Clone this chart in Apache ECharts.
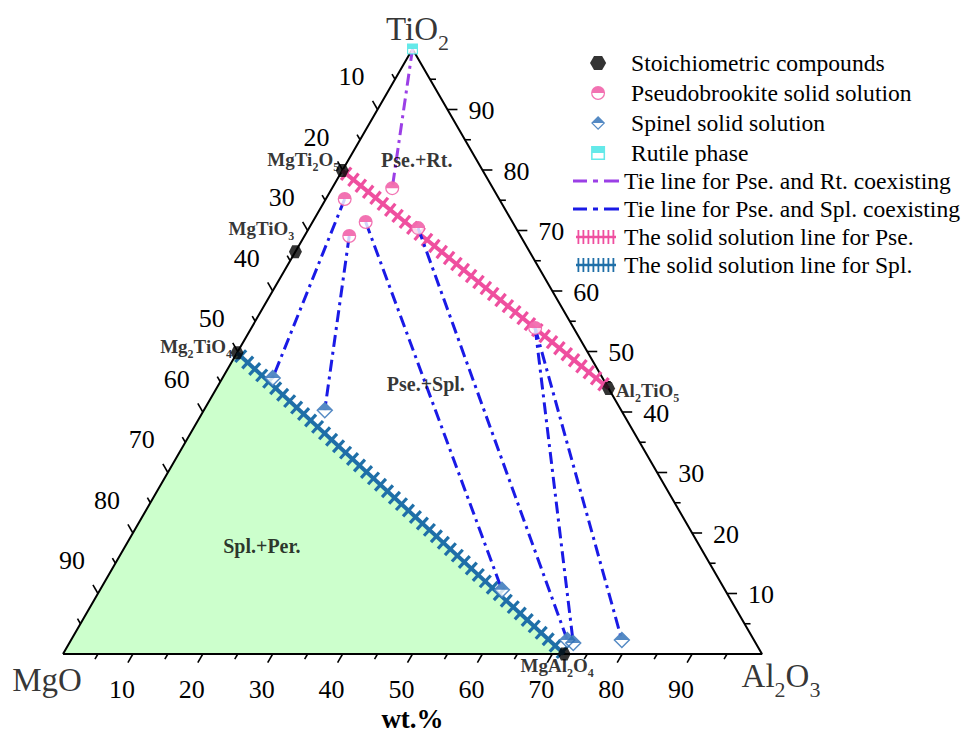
<!DOCTYPE html>
<html>
<head>
<meta charset="utf-8">
<script src="https://cdn.jsdelivr.net/npm/echarts@6/dist/echarts.min.js"></script>
<style>html,body{margin:0;padding:0;background:#fff}#c{width:963px;height:732px}</style>
</head>
<body>
<div id="c"></div>
<script>
// ---------------- data: compositions in wt.% as [MgO, Al2O3, TiO2] ----------------
const vertexNames = ['MgO', 'Al2O3', 'TiO2'];
const vertexComp = [[100, 0, 0], [0, 100, 0], [0, 0, 100]];
const compoundNames = ['MgTi2O5', 'MgTiO3', 'Mg2TiO4', 'Al2TiO5', 'MgAl2O4'];
const compoundComp = [[20.1, 0, 79.9], [33.5, 0, 66.5], [50.2, 0, 49.8], [0, 56.1, 43.9], [28.3, 71.7, 0]];
const pseComp = [[14.4, 8.6, 77.0], [22.1, 2.7, 75.2], [24.5, 6.4, 69.1], [21.0, 7.6, 71.4], [14.0, 15.6, 70.4], [5.5, 40.6, 53.9]];
const splComp = [[47.2, 7.2, 45.6], [42.4, 17.3, 40.3], [31.9, 57.5, 10.6], [26.7, 71.0, 2.3], [26.1, 72.1, 1.8], [18.9, 78.8, 2.3]];
const rutileComp = [[0, 0, 100]];
const tiePseRt = [[0, 0]];                                              // [rutile idx, pse idx]
const tiePseSpl = [[1, 0], [2, 1], [3, 2], [4, 3], [5, 4], [5, 5]];     // [pse idx, spl idx]
const pseSolidLine = [0, 3];   // compound indices: MgTi2O5 -> Al2TiO5
const splSolidLine = [2, 4];   // compound indices: Mg2TiO4 -> MgAl2O4
const perRegion = [[100, 0, 0], [50.2, 0, 49.8], [28.3, 71.7, 0]];
const regionNames = ['Pse.+Rt.', 'Pse.+Spl.', 'Spl.+Per.'];
const regionComp = [[8.6, 9.8, 81.6], [25.8, 29.6, 44.6], [62.6, 19.5, 17.9]];
const tickValues = [5, 10, 15, 20, 25, 30, 35, 40, 45, 50, 55, 60, 65, 70, 75, 80, 85, 90, 95];
const tickLabels = [10, 20, 30, 40, 50, 60, 70, 80, 90];
const axisTitle = 'wt.%';

// ---------------- styles ----------------
const SERIF = "'Liberation Serif', 'Times New Roman', serif";
const PINK = '#ef4f9f', SPLBLUE = '#1f6fa8', DIAMOND = '#2a6db5', TIEBLUE = '#1a1ae6', PURPLE = '#9b3fe6', CYAN = '#3de3e3';
const HEX = 'path://M5,0 L15,0 L20,8.66 L15,17.32 L5,17.32 L0,8.66 Z';
const HALF_CIRCLE = 'path://M0,10 A10,10 0 0 1 20,10 Z M20,10 A10,10 0 0 1 0,10 L1.8,10 A8.2,8.2 0 0 0 18.2,10 Z';
const HALF_DIAMOND = 'path://M10,0 L20,10 L0,10 Z M20,10 L10,20 L0,10 L2.4,10 L10,17.6 L17.6,10 Z';
const HALF_SQUARE = 'path://M0,0 L20,0 L20,10 L0,10 Z M0,10 L20,10 L20,20 L0,20 Z M2.2,10 L2.2,17.8 L17.8,17.8 L17.8,10 Z';
const DASHDOT = 'path://M0,0 L14,0 L14,3 L0,3 Z M20,0 L25,0 L25,3 L20,3 Z M31,0 L46,0 L46,3 L31,3 Z';
function hatchIcon() {
  let p = 'path://M0,5.8 L40,5.8 L40,8.2 L0,8.2 Z';
  for (let x = 1.5; x < 40; x += 5) p += ' M' + x + ',0 L' + (x + 1.8) + ',0 L' + (x + 1.8) + ',14 L' + x + ',14 Z';
  return p;
}
const HATCH = hatchIcon();

const compoundLabelOffset = [[-39, -9], [-34, -21], [-41, -4], [39, 4], [-7, 13]];
const vertexLabelOffset = [[-16, 27], [19, 26], [5, -16]];

// ternary -> cartesian data units (x in 0..100, y in 0..H)
const H = 100 * Math.sqrt(3) / 2;
function toXY(c) {
  const s = c[0] + c[1] + c[2];
  const a = c[1] / s * 100, t = c[2] / s * 100;
  return [a + t / 2, t / 100 * H];
}
function richFormula(name) {
  return name.replace(/([A-Za-z]+)|(\d+)/g, (m, w, d) => w ? '{n|' + w + '}' : '{s|' + d + '}');
}
function tieData(pairs, fromArr, toArr) {
  const out = [];
  pairs.forEach((pr, k) => {
    if (k) out.push(['-', '-']);
    out.push(toXY(fromArr[pr[0]]), toXY(toArr[pr[1]]));
  });
  return out;
}
function tickSeries(axis) {
  return {
    type: 'custom', silent: true, z: 3,
    data: tickValues.map(v => [v, 0]),
    renderItem: (params, api) => {
      const v = api.value(0);
      let comp, dir, off;
      if (axis === 'bottom') { comp = [100 - v, v, 0]; dir = [-0.5, 0.866]; off = [-11, 35]; }
      else if (axis === 'left') { comp = [v, 0, 100 - v]; dir = [-0.5, -0.866]; off = [-26, -33]; }
      else { comp = [0, 100 - v, v]; dir = [1, 0]; off = [34, 1]; }
      const p = api.coord(toXY(comp));
      const major = tickLabels.indexOf(v) >= 0;
      const len = major ? 10 : 6;
      const children = [{
        type: 'line',
        shape: { x1: p[0], y1: p[1], x2: p[0] + dir[0] * len, y2: p[1] + dir[1] * len },
        style: { stroke: '#000', lineWidth: 1.6 }
      }];
      if (major) {
        children.push({
          type: 'text',
          style: {
            legacy: false,
            text: String(v), x: p[0] + off[0], y: p[1] + off[1],
            fill: '#000', font: '26px ' + SERIF, fontSize: 26, fontFamily: SERIF,
            align: 'center', verticalAlign: 'middle'
          }
        });
      }
      return { type: 'group', children };
    }
  };
}
function hatchSeries(name, color, pair) {
  const a = toXY(compoundComp[pair[0]]), b = toXY(compoundComp[pair[1]]);
  return {
    name, type: 'custom', z: 4, silent: true, itemStyle: { color },
    encode: { x: [0, 2], y: [1, 3] },
    data: [[a[0], a[1], b[0], b[1]]],
    renderItem: (params, api) => {
      const p1 = api.coord([api.value(0), api.value(1)]);
      const p2 = api.coord([api.value(2), api.value(3)]);
      const dx = p2[0] - p1[0], dy = p2[1] - p1[1], L = Math.hypot(dx, dy);
      const ux = dx / L, uy = dy / L, nx = -uy, ny = ux;
      const children = [{ type: 'line', shape: { x1: p1[0], y1: p1[1], x2: p2[0], y2: p2[1] }, style: { stroke: color, lineWidth: 4 } }];
      for (let s = 5; s < L - 2; s += 9.5) {
        const cx = p1[0] + ux * s, cy = p1[1] + uy * s;
        children.push({ type: 'line', shape: { x1: cx + nx * 8, y1: cy + ny * 8, x2: cx - nx * 8, y2: cy - ny * 8 }, style: { stroke: color, lineWidth: 3.2 } });
      }
      return { type: 'group', children };
    }
  };
}

const chart = echarts.init(document.getElementById('c'), null, { renderer: 'svg' });
const legendText = { fontFamily: SERIF, fontSize: 23.6, color: '#000', lineHeight: 24 };
chart.setOption({
  animation: false,
  backgroundColor: '#fff',
  grid: { left: 63, right: 201, top: 49, bottom: 78, containLabel: false, outerBoundsMode: 'none' },
  xAxis: {
    type: 'value', min: 0, max: 100,
    axisLine: { show: false }, axisTick: { show: false }, axisLabel: { show: false }, splitLine: { show: false },
    name: axisTitle, nameLocation: 'middle', nameGap: 51,
    nameTextStyle: { fontFamily: SERIF, fontSize: 27, fontWeight: 'bold', color: '#000' }
  },
  yAxis: { type: 'value', min: 0, max: H, show: false },
  legend: [
    {
      orient: 'vertical', left: 590, top: 51, padding: 0, itemWidth: 56, itemHeight: 14, itemGap: 6,
      selectedMode: false, textStyle: legendText,
      data: [
        { name: 'Stoichiometric compounds', icon: HEX },
        { name: 'Pseudobrookite solid solution', icon: HALF_CIRCLE },
        { name: 'Spinel solid solution', icon: HALF_DIAMOND },
        { name: 'Rutile phase', icon: HALF_SQUARE }
      ]
    },
    {
      orient: 'vertical', left: 573, top: 169, padding: 0, itemWidth: 46, itemHeight: 14, itemGap: 4,
      selectedMode: false, textStyle: legendText,
      data: [
        { name: 'Tie line for Pse. and Rt. coexisting', icon: DASHDOT, itemStyle: { color: PURPLE } },
        { name: 'Tie line for Pse. and Spl. coexisting', icon: DASHDOT, itemStyle: { color: TIEBLUE } },
        { name: 'The solid solution line for Pse.', icon: HATCH, itemStyle: { color: PINK } },
        { name: 'The solid solution line for Spl.', icon: HATCH, itemStyle: { color: SPLBLUE } }
      ]
    }
  ],
  series: [
    {
      type: 'custom', silent: true, z: 1, data: [[0, 0]],
      renderItem: (params, api) => ({
        type: 'polygon',
        shape: { points: perRegion.map(c => api.coord(toXY(c))) },
        style: { fill: '#ccffcc' }
      })
    },
    {
      type: 'line', silent: true, z: 2, clip: false, symbol: 'none',
      lineStyle: { color: '#000', width: 2 },
      data: vertexComp.concat([vertexComp[0]]).map(toXY)
    },
    tickSeries('bottom'), tickSeries('left'), tickSeries('right'),
    hatchSeries('The solid solution line for Pse.', PINK, pseSolidLine),
    hatchSeries('The solid solution line for Spl.', SPLBLUE, splSolidLine),
    {
      name: 'Tie line for Pse. and Rt. coexisting', type: 'line', z: 5, silent: true, clip: false,
      symbol: 'none', itemStyle: { color: PURPLE },
      lineStyle: { color: PURPLE, width: 3, type: [12, 5, 3, 5] },
      data: tieData(tiePseRt, rutileComp, pseComp)
    },
    {
      name: 'Tie line for Pse. and Spl. coexisting', type: 'line', z: 5, silent: true, clip: false,
      symbol: 'none', itemStyle: { color: TIEBLUE },
      lineStyle: { color: TIEBLUE, width: 3, type: [12, 5, 3, 5] },
      data: tieData(tiePseSpl, pseComp, splComp)
    },
    // white under-layers so the open half of each marker is opaque
    { type: 'scatter', z: 6, silent: true, clip: false, symbol: 'circle', symbolSize: 13, itemStyle: { color: '#fff' }, data: pseComp.map(toXY) },
    { type: 'scatter', z: 6, silent: true, clip: false, symbol: 'diamond', symbolSize: 16, itemStyle: { color: '#fff' }, data: splComp.map(toXY) },
    { type: 'scatter', z: 6, silent: true, clip: false, symbol: 'rect', symbolSize: 10, itemStyle: { color: '#fff' }, data: rutileComp.map(toXY) },
    {
      name: 'Pseudobrookite solid solution', type: 'scatter', z: 7, silent: true, clip: false,
      symbol: HALF_CIRCLE, symbolSize: 14, itemStyle: { color: PINK }, data: pseComp.map(toXY)
    },
    {
      name: 'Spinel solid solution', type: 'scatter', z: 7, silent: true, clip: false,
      symbol: HALF_DIAMOND, symbolSize: 17, itemStyle: { color: DIAMOND }, data: splComp.map(toXY)
    },
    {
      name: 'Rutile phase', type: 'scatter', z: 7, silent: true, clip: false,
      symbol: HALF_SQUARE, symbolSize: 11, itemStyle: { color: CYAN }, data: rutileComp.map(toXY)
    },
    {
      name: 'Stoichiometric compounds', type: 'scatter', z: 8, silent: true, clip: false,
      symbol: HEX, symbolSize: 13, itemStyle: { color: '#000' },
      data: compoundComp.map((c, i) => ({ name: compoundNames[i], value: toXY(c), label: { offset: compoundLabelOffset[i] } })),
      label: {
        show: true, position: 'inside', color: '#000', textBorderWidth: 0,
        formatter: p => richFormula(p.name),
        rich: {
          n: { fontFamily: SERIF, fontWeight: 'bold', fontSize: 19, lineHeight: 22, verticalAlign: 'top', color: '#000' },
          s: { fontFamily: SERIF, fontWeight: 'bold', fontSize: 12, lineHeight: 23, verticalAlign: 'bottom', color: '#000' }
        }
      }
    },
    {
      type: 'scatter', z: 9, silent: true, clip: false, symbol: 'circle', symbolSize: 1,
      itemStyle: { color: 'rgba(0,0,0,0)' },
      data: vertexComp.map((c, i) => ({ name: vertexNames[i], value: toXY(c), label: { offset: vertexLabelOffset[i] } })),
      label: {
        show: true, position: 'inside', color: '#000', textBorderWidth: 0,
        formatter: p => richFormula(p.name),
        rich: {
          n: { fontFamily: SERIF, fontSize: 33, lineHeight: 36, verticalAlign: 'top', color: '#000' },
          s: { fontFamily: SERIF, fontSize: 22, lineHeight: 41, verticalAlign: 'bottom', color: '#000' }
        }
      }
    },
    {
      type: 'scatter', z: 9, silent: true, clip: false, symbol: 'circle', symbolSize: 1,
      itemStyle: { color: 'rgba(0,0,0,0)' },
      data: regionComp.map((c, i) => ({ name: regionNames[i], value: toXY(c) })),
      label: {
        show: true, position: 'inside', color: '#000', textBorderWidth: 0,
        formatter: p => p.name,
        fontFamily: SERIF, fontWeight: 'bold', fontSize: 20
      }
    }
  ]
});
</script>
</body>
</html>
